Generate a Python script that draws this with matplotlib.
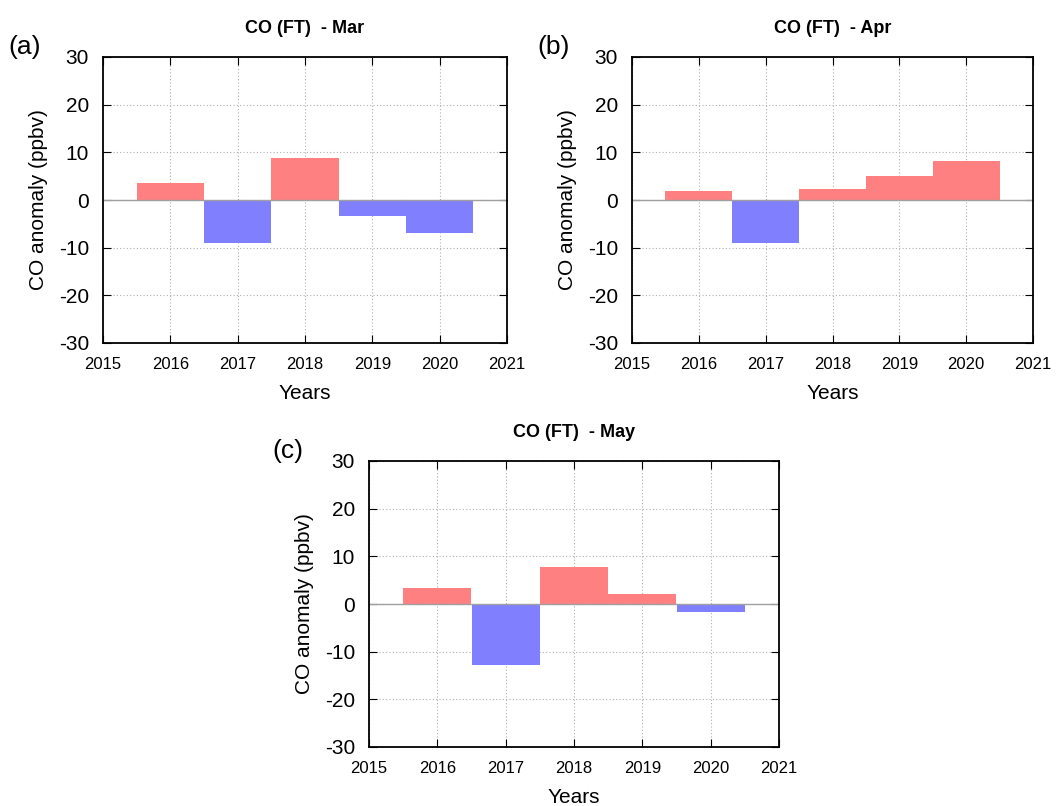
import numpy as np
import matplotlib.pyplot as plt

plt.rcParams["font.family"] = ["Liberation Sans", "DejaVu Sans"]
plt.rcParams["axes.unicode_minus"] = False

# CO anomaly (ppbv) in the free troposphere, per month
years = [2016, 2017, 2018, 2019, 2020]
co_mar = [3.5, -9.1, 8.9, -3.4, -7.0]
co_apr = [1.9, -9.1, 2.3, 5.0, 8.2]
co_may = [3.3, -12.9, 7.7, 2.0, -1.7]

months = ["Mar", "Apr", "May"]
panel_tags = ["(a)", "(b)", "(c)"]
year_ticks = [2015, 2016, 2017, 2018, 2019, 2020, 2021]
y_ticks = [-30, -20, -10, 0, 10, 20, 30]

POS = "#ff8080"
NEG = "#8080ff"

W, H = 1064, 806
fig = plt.figure(figsize=(W / 100, H / 100), dpi=100)


def px_axes(x0, y0, x1, y1):
    return fig.add_axes([x0 / W, 1 - y1 / H, (x1 - x0) / W, (y1 - y0) / H])


def anomaly_panel(ax, vals, month, tag):
    cols = [POS if v >= 0 else NEG for v in vals]
    ax.bar(years, vals, width=1.0, color=cols, linewidth=0, zorder=2)
    ax.axhline(0, color="#a0a0a0", lw=1.0, zorder=3)
    ax.set_xlim(2015, 2021)
    ax.set_ylim(-30, 30)
    ax.set_xticks(year_ticks)
    ax.set_yticks(y_ticks)
    ax.tick_params(axis="x", labelsize=12, direction="in", length=6,
                   top=True, pad=10)
    ax.tick_params(axis="y", labelsize=15, direction="in", length=6,
                   right=True, pad=10)
    ax.grid(True, ls=(0, (1, 2)), color="#b0b0b0", lw=0.8, zorder=1)
    for s in ax.spines.values():
        s.set_linewidth(1.3)
        s.set_zorder(4)
    ax.set_xlabel("Years", fontsize=15, labelpad=9)
    ax.set_ylabel("CO anomaly (ppbv)", fontsize=15, labelpad=8)
    ax.set_title(f"CO (FT)  - {month}", fontsize=13, fontweight="bold", pad=17)
    ax.text(-0.235, 1.035, tag, transform=ax.transAxes, fontsize=19,
            ha="left", va="center")


ax_a = px_axes(103, 57, 507, 343)
ax_b = px_axes(632, 57, 1033, 343)
ax_c = px_axes(369, 461, 779, 747)

anomaly_panel(ax_a, co_mar, months[0], panel_tags[0])
anomaly_panel(ax_b, co_apr, months[1], panel_tags[1])
anomaly_panel(ax_c, co_may, months[2], panel_tags[2])

fig.savefig("out.png", dpi=100)
